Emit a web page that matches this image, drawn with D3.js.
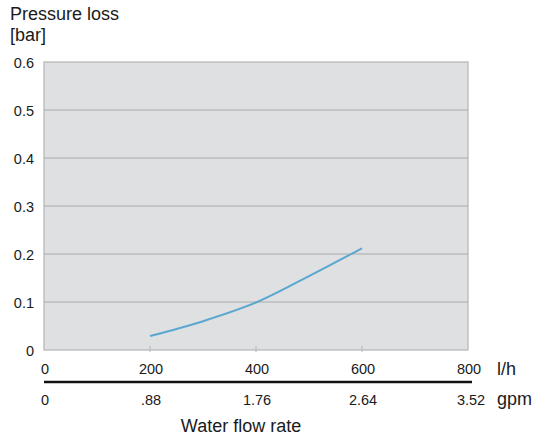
<!DOCTYPE html>
<html>
<head>
<meta charset="utf-8">
<script src="https://cdn.jsdelivr.net/npm/d3@7"></script>
<style>
  body { margin: 0; background: #fff; }
  text { font-family: "Liberation Sans", Arial, sans-serif; fill: #1a1a1a; }
</style>
</head>
<body>
<script>
// flow in l/h, loss in bar
const flow = [200, 300, 400, 500, 600];
const loss = [0.029, 0.060, 0.099, 0.154, 0.212];
const yTicks = [0, 0.1, 0.2, 0.3, 0.4, 0.5, 0.6];
const lhTicks = [0, 200, 400, 600, 800];
const gpmLabels = ['0', '.88', '1.76', '2.64', '3.52'];

const W = 536, H = 439;
const m = { left: 44, right: 468, top: 62, bottom: 350 };

let svg = d3.select('body')
  .append('svg')
  .attr('width', W)
  .attr('height', H);

let x = d3.scaleLinear().domain([0, 800]).range([m.left, m.right]);
let y = d3.scaleLinear().domain([0, 0.6]).range([m.bottom, m.top]);

// plot background
svg.append('rect')
  .attr('x', m.left)
  .attr('y', m.top)
  .attr('width', m.right - m.left)
  .attr('height', m.bottom - m.top)
  .attr('fill', '#dfe0e2')
  .attr('stroke', '#b4b4b4')
  .attr('stroke-width', 1.2);

// horizontal grid
svg.selectAll('.grid')
  .data(yTicks.slice(1, -1))
  .enter()
  .append('line')
  .attr('class', 'grid')
  .attr('x1', m.left).attr('x2', m.right)
  .attr('y1', (d) => y(d)).attr('y2', (d) => y(d))
  .attr('stroke', '#a9a9a9')
  .attr('stroke-width', 1.2);

// small ticks on the bottom edge
svg.selectAll('.xtick')
  .data(lhTicks.slice(1, -1))
  .enter()
  .append('line')
  .attr('class', 'xtick')
  .attr('x1', (d) => x(d)).attr('x2', (d) => x(d))
  .attr('y1', m.bottom - 4).attr('y2', m.bottom + 2)
  .attr('stroke', '#b4b4b4')
  .attr('stroke-width', 1);

// y labels
svg.selectAll('.ylab')
  .data(yTicks)
  .enter()
  .append('text')
  .attr('class', 'ylab')
  .attr('x', 34)
  .attr('y', (d) => y(d) + 6)
  .attr('text-anchor', 'end')
  .style('font-size', '14.5px')
  .text((d) => d === 0 ? '0' : d3.format('.1f')(d));

// l/h labels
svg.selectAll('.lh')
  .data(lhTicks)
  .enter()
  .append('text')
  .attr('class', 'lh')
  .attr('x', (d) => x(d) + 1)
  .attr('y', 374)
  .attr('text-anchor', 'middle')
  .style('font-size', '14.5px')
  .text((d) => d);

// gpm labels
svg.selectAll('.gpm')
  .data(lhTicks)
  .enter()
  .append('text')
  .attr('class', 'gpm')
  .attr('x', (d, i) => x(d) + (i === lhTicks.length - 1 ? 3 : 1))
  .attr('y', 405)
  .attr('text-anchor', 'middle')
  .style('font-size', '14.5px')
  .text((d, i) => gpmLabels[i]);

// black divider
svg.append('line')
  .attr('x1', m.left).attr('x2', 472)
  .attr('y1', 382).attr('y2', 382)
  .attr('stroke', '#111')
  .attr('stroke-width', 2.5);

svg.append('text').attr('x', 497).attr('y', 375).style('font-size', '18px').text('l/h');
svg.append('text').attr('x', 497).attr('y', 405).style('font-size', '18px').text('gpm');
svg.append('text').attr('x', 241).attr('y', 432).attr('text-anchor', 'middle').style('font-size', '18px').text('Water flow rate');
svg.append('text').attr('x', 10).attr('y', 20).style('font-size', '18px').text('Pressure loss');
svg.append('text').attr('x', 10).attr('y', 41).style('font-size', '18px').text('[bar]');

// curve
let line = d3.line()
  .x((d, i) => x(flow[i]))
  .y((d) => y(d))
  .curve(d3.curveMonotoneX);

svg.append('path')
  .datum(loss)
  .attr('d', line)
  .attr('fill', 'none')
  .attr('stroke', '#5ba7cf')
  .attr('stroke-width', 2);
</script>
</body>
</html>
